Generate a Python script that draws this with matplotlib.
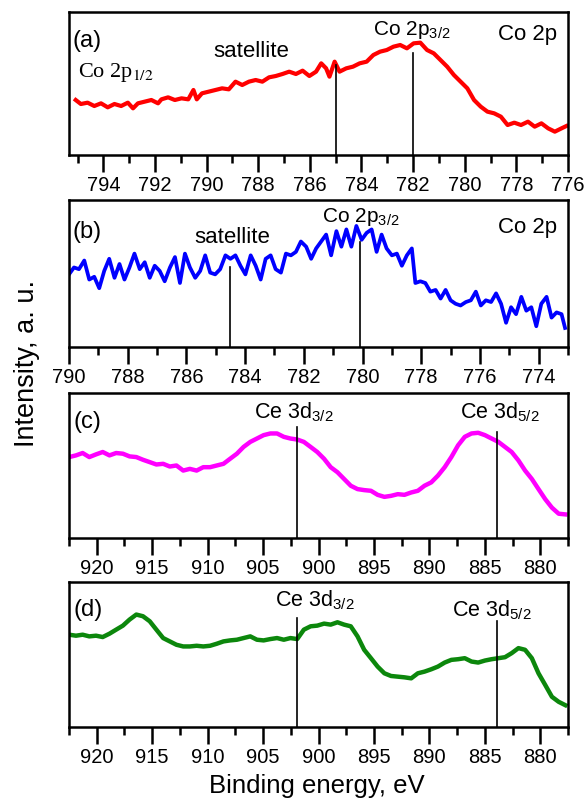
import matplotlib
matplotlib.use("Agg")
import matplotlib.pyplot as plt
from matplotlib.ticker import MultipleLocator

plt.rcParams['font.family'] = ['Liberation Sans', 'DejaVu Sans']
plt.rcParams['mathtext.fontset'] = 'custom'
plt.rcParams['mathtext.rm'] = 'Liberation Sans'
plt.rcParams['mathtext.it'] = 'Liberation Sans:italic'
plt.rcParams['mathtext.default'] = 'rm'

# ---------------- data ----------------
# (a) Co 2p, red
energy_a = [795.07, 794.87, 794.61, 794.35, 794.09, 793.83, 793.57, 793.31, 793.05, 792.85,
            792.66, 792.40, 792.14, 791.88, 791.75, 791.49, 791.23, 790.97, 790.71, 790.51,
            790.38, 790.18, 789.92, 789.66, 789.40, 789.14, 788.88, 788.62, 788.36, 788.10,
            787.84, 787.58, 787.32, 787.06, 786.80, 786.54, 786.28, 786.02, 785.76, 785.56,
            785.37, 785.24, 785.04, 784.85, 784.59, 784.33, 784.07, 783.80, 783.54, 783.28,
            783.02, 782.76, 782.50, 782.24, 781.98, 781.72, 781.46, 781.20, 780.94, 780.68,
            780.42, 780.16, 779.90, 779.64, 779.38, 779.12, 778.86, 778.60, 778.34, 778.08,
            777.82, 777.55, 777.29, 777.03, 776.77, 776.51, 776.25, 776.06]
intensity_a = [165, 153, 157, 147, 155, 143, 153, 147, 157, 140,
               155, 160, 165, 155, 167, 173, 165, 170, 167, 195,
               167, 185, 190, 195, 200, 197, 220, 210, 220, 225,
               220, 233, 237, 243, 250, 243, 253, 237, 250, 275,
               260, 235, 280, 250, 260, 265, 275, 280, 300, 310,
               315, 325, 330, 320, 335, 337, 315, 305, 285, 265,
               240, 220, 200, 165, 145, 130, 125, 115, 90, 97,
               90, 100, 85, 95, 80, 70, 80, 87]

# (b) Co 2p, blue
energy_b = [790.00, 789.83, 789.66, 789.48, 789.31, 789.14, 788.97, 788.80, 788.63, 788.45,
            788.28, 788.11, 787.94, 787.77, 787.59, 787.42, 787.25, 787.08, 786.91, 786.74,
            786.56, 786.39, 786.22, 786.05, 785.88, 785.70, 785.53, 785.36, 785.19, 785.02,
            784.85, 784.67, 784.50, 784.33, 784.16, 783.99, 783.81, 783.64, 783.47, 783.30,
            783.13, 782.96, 782.78, 782.61, 782.44, 782.27, 782.10, 781.92, 781.75, 781.58,
            781.41, 781.24, 781.07, 780.89, 780.72, 780.55, 780.38, 780.21, 780.03, 779.86,
            779.69, 779.52, 779.35, 779.18, 779.00, 778.83, 778.66, 778.49, 778.32, 778.20,
            778.03, 777.86, 777.69, 777.51, 777.34, 777.17, 777.00, 776.83, 776.66, 776.48,
            776.31, 776.14, 775.97, 775.80, 775.62, 775.45, 775.28, 775.11, 774.94, 774.77,
            774.59, 774.42, 774.25, 774.08, 773.91, 773.73, 773.56, 773.39, 773.22, 773.10]
intensity_b = [210, 230, 225, 250, 195, 203, 170, 220, 255, 200,
               240, 195, 230, 270, 225, 245, 200, 235, 220, 190,
               230, 260, 185, 270, 230, 200, 220, 265, 215, 210,
               225, 265, 255, 265, 235, 210, 265, 235, 195, 255,
               265, 225, 215, 270, 265, 275, 305, 290, 255, 285,
               305, 325, 265, 335, 290, 340, 290, 350, 310, 330,
               340, 275, 325, 285, 265, 270, 235, 265, 285, 185,
               190, 185, 160, 165, 140, 165, 135, 125, 120, 130,
               135, 160, 120, 135, 130, 155, 125, 70, 115, 95,
               145, 105, 115, 60, 125, 145, 85, 100, 95, 55]

# (c) Ce 3d, magenta and (d) Ce 3d, green (same energy grid)
energy_ce = [922.48, 921.87, 921.27, 920.67, 920.06, 919.46, 918.85, 918.25, 917.64, 917.04,
             916.43, 915.83, 915.22, 914.62, 914.01, 913.41, 912.81, 912.20, 911.60, 910.99,
             910.39, 909.78, 909.18, 908.57, 907.97, 907.36, 906.76, 906.15, 905.55, 904.95,
             904.34, 903.74, 903.13, 902.53, 901.92, 901.32, 900.71, 900.11, 899.50, 898.90,
             898.29, 897.69, 897.09, 896.48, 895.88, 895.27, 894.67, 894.06, 893.46, 892.85,
             892.25, 891.64, 891.04, 890.44, 889.83, 889.23, 888.62, 888.02, 887.41, 886.81,
             886.20, 885.60, 884.99, 884.39, 883.78, 883.18, 882.58, 881.97, 881.37, 880.76,
             880.16, 879.55, 878.95, 878.34, 877.74]
intensity_c = [240, 245, 252, 240, 248, 255, 245, 252, 250, 242,
               240, 232, 225, 218, 220, 212, 215, 200, 205, 200,
               210, 210, 215, 220, 235, 250, 270, 285, 295, 305,
               310, 310, 300, 295, 292, 285, 270, 255, 235, 210,
               195, 175, 155, 145, 142, 140, 128, 122, 125, 130,
               128, 135, 140, 155, 165, 185, 210, 240, 275, 300,
               310, 312, 305, 295, 285, 270, 255, 230, 200, 175,
               145, 115, 90, 72, 70]
intensity_d = [275, 272, 275, 270, 272, 268, 278, 290, 302, 320,
               335, 330, 315, 290, 265, 255, 245, 240, 240, 242,
               240, 242, 248, 255, 258, 260, 265, 270, 260, 258,
               262, 265, 260, 265, 262, 290, 300, 302, 308, 305,
               312, 305, 300, 270, 230, 205, 180, 160, 152, 150,
               148, 145, 160, 165, 172, 180, 192, 200, 202, 205,
               195, 192, 198, 202, 205, 208, 220, 235, 230, 205,
               160, 125, 90, 75, 65]

# peak marker positions (eV) and line tops (a.u.)
marks_a = [(785.0, 270), (782.0, 305)]
marks_b = [(784.5, 230), (780.1, 305)]
marks_c = [(901.9, 330), (883.9, 315)]
marks_d = [(901.9, 325), (883.9, 315)]

# ---------------- figure ----------------
fig = plt.figure(figsize=(5.86, 8.01), dpi=100)
W, H = 586.0, 801.0
left, right = 69 / W, 568 / W
boxes = [(12, 155), (200, 347), (393, 538), (582, 727)]
axes = []
for top, bot in boxes:
    ax = fig.add_axes([left, 1 - bot / H, right - left, (bot - top) / H])
    axes.append(ax)

def style(ax, xlim, major, minor, ylim):
    ax.set_xlim(*xlim)
    ax.set_ylim(*ylim)
    ax.xaxis.set_major_locator(MultipleLocator(major))
    ax.xaxis.set_minor_locator(MultipleLocator(minor))
    ax.set_yticks([])
    ax.tick_params(axis='x', which='major', direction='out', length=12, width=1.8,
                   labelsize=14.5, pad=3)
    ax.tick_params(axis='x', which='minor', direction='out', length=6, width=1.8)
    for s in ax.spines.values():
        s.set_linewidth(1.8)

a, b, c, d = axes
a.plot(energy_a, intensity_a, color='#ff0000', lw=3.0, solid_joinstyle='round')
style(a, (795.33, 776), 2, 1, (0, 429))
b.plot(energy_b, intensity_b, color='#0000ff', lw=2.7, solid_joinstyle='round')
style(b, (790, 773), 2, 1, (0, 425))
c.plot(energy_ce, intensity_c, color='#ff00ff', lw=3.2, solid_joinstyle='round')
style(c, (922.5, 877.5), 5, 2.5, (0, 430))
d.plot(energy_ce, intensity_d, color='#0c870c', lw=3.2, solid_joinstyle='round')
style(d, (922.5, 877.5), 5, 2.5, (0, 432))

for ax, marks in zip(axes, [marks_a, marks_b, marks_c, marks_d]):
    for xm, ym in marks:
        ax.plot([xm, xm], [0, ym], color='black', lw=1.2)

fs = 16
def t(ax, x, y, s, **kw):
    kw.setdefault('fontsize', fs)
    ax.text(x, y, s, transform=ax.transAxes, **kw)

t(a, 0.008, 0.80, '(a)', va='center', fontsize=17)
t(a, 0.018, 0.58, r'Co 2p$_{1/2}$', va='center', family='Liberation Serif',
  math_fontfamily='stix', fontsize=16)
t(a, 0.365, 0.685, 'satellite', ha='center', va='baseline')
t(a, 0.609, 0.839, r'Co 2p$_{3/2}$', va='baseline', fontsize=15)
t(a, 0.978, 0.804, 'Co 2p', ha='right', va='baseline')

t(b, 0.008, 0.78, '(b)', va='center', fontsize=17)
t(b, 0.327, 0.707, 'satellite', ha='center', va='baseline')
t(b, 0.508, 0.85, r'Co 2p$_{3/2}$', va='baseline', fontsize=15)
t(b, 0.978, 0.776, 'Co 2p', ha='right', va='baseline')

t(c, 0.010, 0.80, '(c)', va='center', fontsize=17)
t(c, 0.371, 0.828, r'Ce 3d$_{3/2}$', va='baseline', fontsize=15.5)
t(c, 0.783, 0.828, r'Ce 3d$_{5/2}$', va='baseline', fontsize=15.5)

t(d, 0.010, 0.805, '(d)', va='center', fontsize=17)
t(d, 0.412, 0.833, r'Ce 3d$_{3/2}$', va='baseline', fontsize=15.5)
t(d, 0.767, 0.764, r'Ce 3d$_{5/2}$', va='baseline', fontsize=15.5)

fig.text(317 / W, 1 - 793 / H, 'Binding energy, eV', ha='center', va='baseline', fontsize=18.5)
fig.text(27 / W, 1 - 363 / H, 'Intensity, a. u.', ha='center', va='center',
         rotation=90, fontsize=19.5)

fig.savefig('out.png', dpi=100)
